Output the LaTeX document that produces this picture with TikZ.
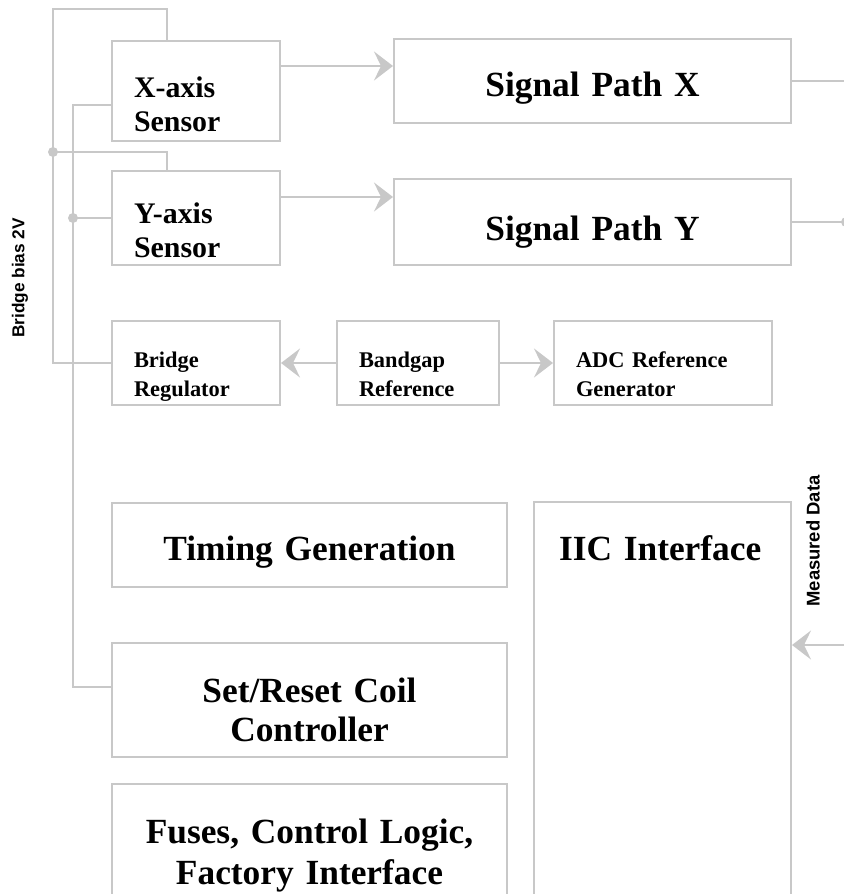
\documentclass[tikz,border=0pt]{standalone}
\usepackage{fontspec}
\setmainfont{Liberation Serif}
\newfontfamily\labelsans{Liberation Sans}
\usetikzlibrary{positioning,calc,arrows.meta}
\definecolor{wiregray}{RGB}{200,200,200}
\tikzstyle{sensor_box} = [draw=wiregray,
						  line width=2bp,
						  inner xsep=22bp,
						  inner ysep=0pt,
						  text width=124bp,
						  align=left,
						  font=\fontsize{30}{35}\selectfont\bfseries]
\tikzstyle{small_box} = [draw=wiregray,
						 line width=2bp,
						 inner xsep=22bp,
						 inner ysep=0pt,
						 align=left,
						 text height=46bp,
						 text depth=38bp,
						 font=\fontsize{22.5}{30}\selectfont\bfseries]
\tikzstyle{big_box} = [draw=wiregray,
					   line width=2bp,
					   inner xsep=0pt,
					   inner ysep=0pt,
					   text width=395bp,
					   align=center,
					   font=\fontsize{35.5}{40}\selectfont\bfseries]
\tikzstyle{wire} = [draw=wiregray,
					line width=2bp]
\tikzstyle{wire_arrow} = [wire,
						  -{Stealth[length=19bp,width=29bp,inset=7bp]}]
\tikzstyle{wire_dot} = [fill=wiregray]
\tikzstyle{side_label} = [inner sep=0pt,
						  rotate=90,
						  font=\labelsans\fontsize{17.3}{20}\selectfont\bfseries]

\begin{document}
\begin{tikzpicture}[x=1bp, y=1bp]
    \useasboundingbox (0,0) rectangle (844,-894);
    \clip (0,0) rectangle (844,-894);

        %%%%%%%%%%%%
        % SENSORS  %
        %%%%%%%%%%%%
        \node[sensor_box, anchor=north west, text height=56bp, text depth=44bp] (xs) at (111,-40) {X-axis\\Sensor};
        \node[sensor_box, below=28bp of xs.south west, anchor=north west, text height=52bp, text depth=42bp] (ys) {Y-axis\\Sensor};
        \node[small_box, below=54bp of ys.south west, anchor=north west, text width=124bp] (br) {Bridge\\Regulator};
        \node[small_box, right=55bp of br, text width=118bp] (bg) {Bandgap\\Reference};
        \node[small_box, right=53bp of bg, text width=174bp] (adc) {ADC Reference\\Generator};

        %%%%%%%%%%%%%%%%
        % SIGNAL PATHS %
        %%%%%%%%%%%%%%%%
        \node[big_box, right=112bp of xs.north east, anchor=north west, yshift=2bp, text width=397bp, text height=57bp, text depth=27bp] (spx) {Signal Path X};
        \node[big_box, below=54bp of spx, text width=397bp, text height=61bp, text depth=25bp] (spy) {Signal Path Y};

        %%%%%%%%%%%%%%%%
        % LOWER BLOCKS %
        %%%%%%%%%%%%%%%%
        \node[big_box, below=96bp of br.south west, anchor=north west, text height=57bp, text depth=27bp] (tg) {Timing Generation};
        \node[big_box, below=54bp of tg, text height=59bp, text depth=55bp] (sr) {Set/Reset Coil\\Controller};
        \node[big_box, below=25bp of sr, text height=59bp, text depth=81bp, font=\fontsize{35.5}{42}\selectfont\bfseries] (fu) {Fuses, Control Logic,\\Factory Interface};
        \node[big_box, right=25bp of tg.north east, anchor=north west, yshift=1bp, inner xsep=25bp, text width=207bp, align=left, text height=58bp, text depth=362bp] (iic) {IIC Interface};

        %%%%%%%%%%%%
        % WIRES    %
        %%%%%%%%%%%%
        \coordinate (railout) at (53,-9);
        \coordinate (railin) at (73,-400);
        \coordinate (bj) at (53,-152);
        \coordinate (edge) at (846,0);
        \coordinate (mdin) at (846,-645);
        \coordinate (xout) at ([yshift=25bp]xs.east);
        \coordinate (yout) at ([yshift=21bp]ys.east);

        % bridge bias
        \draw[wire] ([xshift=56bp]xs.north west) |- (railout) |- (br.west);
        \draw[wire] (bj) -| ([xshift=56bp]ys.north west);
        \fill[wire_dot] (bj) circle (5bp);
        \draw[wire] ([yshift=-14bp]xs.west) -| (railin) |- ([yshift=13bp]sr.west);
        \draw[wire] (ys.west) -- (ys.west -| railin);
        \fill[wire_dot] (ys.west -| railin) circle (5bp);

        % signal flow
        \draw[wire_arrow] (xout) -- (xout -| spx.west);
        \draw[wire_arrow] (yout) -- (yout -| spy.west);
        \draw[wire_arrow] (bg.west) -- (br.east);
        \draw[wire_arrow] (bg.east) -- (adc.west);
        \draw[wire] (spx.east) -- (spx.east -| edge);
        \draw[wire] (spy.east) -- (spy.east -| edge);
        \fill[wire_dot] (spy.east -| edge) circle (5bp);
        \draw[wire_arrow] (mdin) -- (mdin -| iic.east);

        \node[side_label] (biaslbl) at (20,-278) {Bridge bias 2V};
        \node[side_label, font=\labelsans\fontsize{18.5}{20}\selectfont\bfseries] (mdlbl) at (813,-541) {Measured Data};

\end{tikzpicture}
\end{document}
